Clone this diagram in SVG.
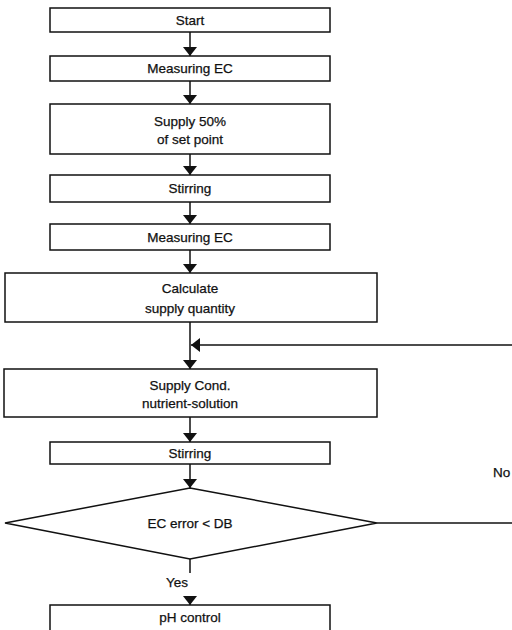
<svg xmlns="http://www.w3.org/2000/svg" width="512" height="630" viewBox="0 0 512 630">
<style>
.box{fill:#fff;stroke:#111;stroke-width:1.5}
.t{font-family:"Liberation Sans",Arial,sans-serif;font-size:13.5px;fill:#111;text-anchor:middle;stroke:#111;stroke-width:0.25}
.ln{stroke:#111;stroke-width:1.5;fill:none}
</style>
<defs>
<marker id="ah" viewBox="0 0 9 14" refX="9" refY="7" markerWidth="9" markerHeight="14" markerUnits="userSpaceOnUse" orient="auto">
<path d="M0,0 L9,7 L0,14 Z" fill="#111"/>
</marker>
</defs>
<rect width="512" height="630" fill="#fff"/>
<g id="connectors">
<line class="ln" x1="190" y1="32" x2="190" y2="56" marker-end="url(#ah)"/>
<line class="ln" x1="190" y1="81" x2="190" y2="104" marker-end="url(#ah)"/>
<line class="ln" x1="190" y1="154" x2="190" y2="175" marker-end="url(#ah)"/>
<line class="ln" x1="190" y1="202" x2="190" y2="224" marker-end="url(#ah)"/>
<line class="ln" x1="190" y1="250" x2="190" y2="273" marker-end="url(#ah)"/>
<line class="ln" x1="190" y1="322" x2="190" y2="369" marker-end="url(#ah)"/>
<line class="ln" x1="512" y1="345" x2="191" y2="345" marker-end="url(#ah)"/>
<line class="ln" x1="190" y1="417" x2="190" y2="442" marker-end="url(#ah)"/>
<line class="ln" x1="190" y1="464" x2="190" y2="488" marker-end="url(#ah)"/>
<line class="ln" x1="377" y1="523" x2="512" y2="523"/>
<line class="ln" x1="190" y1="559" x2="190" y2="573"/>
<line class="ln" x1="190" y1="596" x2="190" y2="605" marker-end="url(#ah)"/>
<text class="t" x="177" y="587">Yes</text>
<text class="t" x="493" y="477" style="text-anchor:start">No</text>
</g>
<g id="start"><rect class="box" x="50" y="8" width="280" height="24"/><text class="t" x="190" y="25">Start</text></g>
<g id="measure1"><rect class="box" x="50" y="56" width="280" height="25"/><text class="t" x="190" y="73">Measuring EC</text></g>
<g id="supply50"><rect class="box" x="50" y="104" width="280" height="50"/><text class="t" x="190" y="126">Supply 50%</text><text class="t" x="190" y="144">of set point</text></g>
<g id="stir1"><rect class="box" x="50" y="175" width="280" height="27"/><text class="t" x="190" y="193">Stirring</text></g>
<g id="measure2"><rect class="box" x="50" y="224" width="280" height="26"/><text class="t" x="190" y="242">Measuring EC</text></g>
<g id="calc"><rect class="box" x="5" y="273" width="372" height="49"/><text class="t" x="190" y="293">Calculate</text><text class="t" x="190" y="313">supply quantity</text></g>
<g id="supplycond"><rect class="box" x="4" y="369" width="373" height="48"/><text class="t" x="190" y="390">Supply Cond.</text><text class="t" x="190" y="408">nutrient-solution</text></g>
<g id="stir2"><rect class="box" x="50" y="442" width="280" height="22"/><text class="t" x="190" y="458">Stirring</text></g>
<g id="decision"><polygon class="box" points="190,488 377,523 190,559 5,523"/><text class="t" x="190" y="528">EC error &lt; DB</text></g>
<g id="ph"><rect class="box" x="50" y="605" width="280" height="40"/><text class="t" x="190" y="622">pH control</text></g>
</svg>
